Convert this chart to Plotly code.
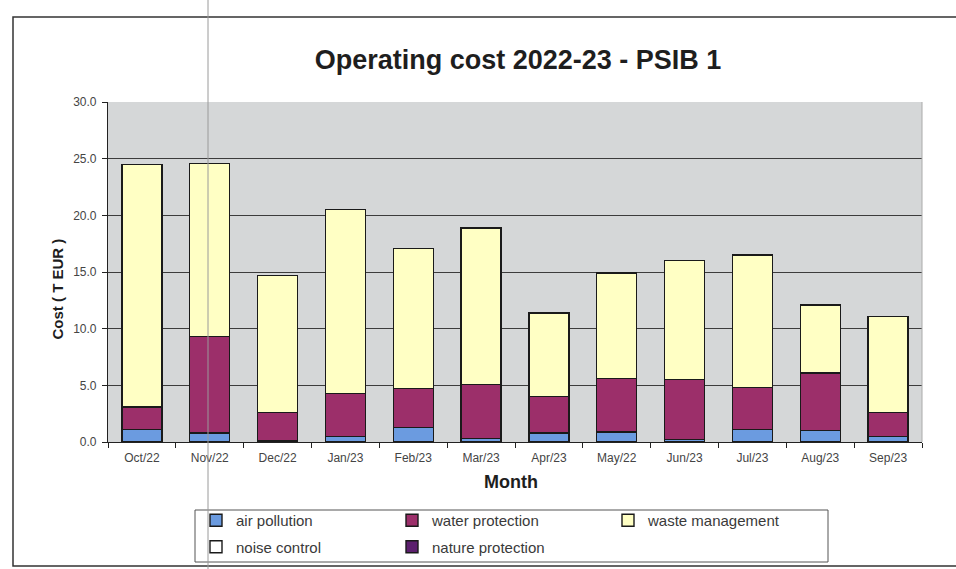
import plotly.graph_objects as go

months = ["Oct/22", "Nov/22", "Dec/22", "Jan/23", "Feb/23", "Mar/23",
          "Apr/23", "May/22", "Jun/23", "Jul/23", "Aug/23", "Sep/23"]
air_pollution = [1.1, 0.8, 0.1, 0.5, 1.3, 0.3, 0.8, 0.9, 0.2, 1.1, 1.0, 0.5]
water_protection = [2.0, 8.5, 2.5, 3.8, 3.4, 4.8, 3.2, 4.7, 5.3, 3.7, 5.1, 2.1]
waste_management = [21.4, 15.3, 12.1, 16.2, 12.4, 13.8, 7.4, 9.3, 10.5, 11.7, 6.0, 8.5]
noise_control = [0, 0, 0, 0, 0, 0, 0, 0, 0, 0, 0, 0]
nature_protection = [0, 0, 0, 0, 0, 0, 0, 0, 0, 0, 0, 0]

W, H = 956, 569
L, R, T, B = 108, 34, 102, 127
pw, ph = W - L - R, H - T - B


def px(x):
    return (x - L) / pw


def py(y):
    return (H - B - y) / ph


FONT = "Liberation Sans, Arial, sans-serif"
outline = dict(color="#1a1a1a", width=1.4)

series = [
    ("air pollution", air_pollution, "#6b9be0", "legend", "g1"),
    ("water protection", water_protection, "#9c2f6a", "legend2", "g2"),
    ("waste management", waste_management, "#ffffc4", "legend3", "g3"),
    ("noise control", noise_control, "#ffffff", "legend", "g4"),
    ("nature protection", nature_protection, "#5c1f6e", "legend2", "g5"),
]

fig = go.Figure()
for name, vals, col, leg, grp in series:
    fig.add_trace(go.Bar(x=months, y=vals, name=name, legend=leg, legendgroup=grp,
                         marker=dict(color=col, line=outline)))

legend_common = dict(orientation="v", yanchor="top", xanchor="left",
                     font=dict(family=FONT, size=15, color="#3a3a3a"),
                     bgcolor="rgba(0,0,0,0)", tracegroupgap=4, itemwidth=30)

fig.update_layout(
    width=W, height=H,
    margin=dict(l=L, r=R, t=T, b=B, autoexpand=False),
    barmode="stack", bargap=0.41,
    paper_bgcolor="white", plot_bgcolor="#d5d7d8",
    title=dict(text="<b>Operating cost 2022-23 - PSIB 1</b>", x=px(518), xanchor="center",
               xref="paper", y=1 - 60 / H, yanchor="middle",
               font=dict(family=FONT, size=27, color="#1e1e1e")),
    legend=dict(x=px(196), y=py(504), **legend_common),
    legend2=dict(x=px(392), y=py(504), **legend_common),
    legend3=dict(x=px(608), y=py(504), **legend_common),
    xaxis=dict(showgrid=False, showline=True, linecolor="#222", linewidth=1.2,
               ticks="outside", tickson="boundaries", ticklen=5, tickcolor="#222",
               ticklabelstandoff=4,
               tickfont=dict(family=FONT, size=12, color="#444")),
    yaxis=dict(range=[0, 30], dtick=5, tickformat=".1f", showgrid=True,
               gridcolor="#3c3c3c", gridwidth=1.3, showline=True, linecolor="#222",
               linewidth=1.2, ticks="outside", ticklen=5, tickcolor="#222", zeroline=False,
               ticklabelstandoff=3,
               tickfont=dict(family=FONT, size=12, color="#444")),
    showlegend=True,
    annotations=[
        dict(text="<b>Cost ( T EUR )</b>", xref="paper", yref="paper", x=px(46), y=py(289),
             textangle=-90, showarrow=False, font=dict(family=FONT, size=15, color="#1e1e1e")),
        dict(text="<b>Month</b>", xref="paper", yref="paper", x=px(511), y=py(494),
             showarrow=False, font=dict(family=FONT, size=18, color="#1e1e1e")),
    ],
    shapes=[
        dict(type="rect", xref="paper", yref="paper", x0=px(13), x1=px(962), y0=py(17), y1=py(566),
             line=dict(color="#333", width=1.5)),
        dict(type="rect", xref="paper", yref="paper", x0=px(195), x1=px(828), y0=py(510), y1=py(562),
             line=dict(color="#555", width=1)),
        dict(type="line", xref="paper", yref="paper", x0=1, x1=1, y0=0, y1=1,
             line=dict(color="#aaa", width=1)),
        dict(type="line", xref="paper", yref="paper", x0=px(208), x1=px(208), y0=py(0), y1=py(569),
             line=dict(color="#9a9a9a", width=1)),
    ],
)

fig.write_html("out.html", post_script="document.body.style.margin='0';",
               config={"displayModeBar": False})
